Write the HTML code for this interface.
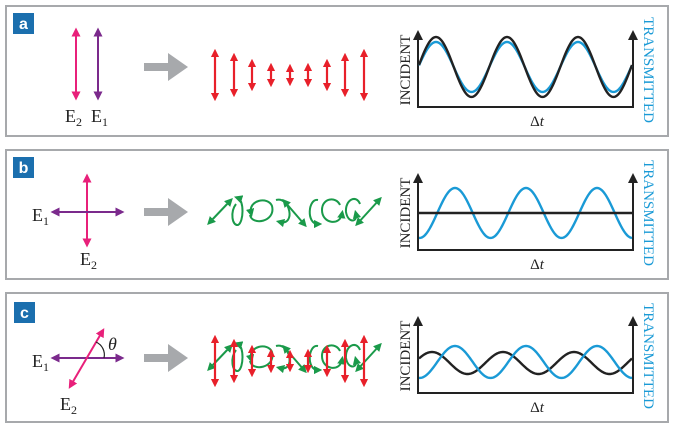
<!DOCTYPE html>
<html><head><meta charset="utf-8"><style>
html,body{margin:0;padding:0;background:#fff;}
svg{display:block;font-family:"Liberation Serif",serif;}
</style></head><body>
<svg width="676" height="430" viewBox="0 0 676 430" xmlns="http://www.w3.org/2000/svg">
<defs>
<marker id="ar" viewBox="0 0 10 10" refX="5" refY="5" markerWidth="3.8" markerHeight="3.8" orient="auto-start-reverse"><path d="M0,0L10,5L0,10z" fill="#e8202a"/></marker>
<marker id="pk" viewBox="0 0 10 10" refX="5" refY="5" markerWidth="4.5" markerHeight="4.5" orient="auto-start-reverse"><path d="M0,0L10,5L0,10z" fill="#e8207a"/></marker>
<marker id="pu" viewBox="0 0 10 10" refX="5" refY="5" markerWidth="4.5" markerHeight="4.5" orient="auto-start-reverse"><path d="M0,0L10,5L0,10z" fill="#7b2a8c"/></marker>
<marker id="gr" viewBox="0 0 10 10" refX="5" refY="5" markerWidth="4.2" markerHeight="4.2" orient="auto-start-reverse"><path d="M0,0L10,5L0,10z" fill="#1a9a4a"/></marker>
<g id="garr"><path d="M144,0h24v-10l20,14l-20,14v-10h-24z" fill="#a7a9ac" transform="translate(0,-4)"/></g>
</defs>

<rect x="6" y="6" width="662" height="130" fill="none" stroke="#a7a9ac" stroke-width="2"/>
<rect x="6" y="150" width="662" height="129" fill="none" stroke="#a7a9ac" stroke-width="2"/>
<rect x="6" y="293" width="662" height="129" fill="none" stroke="#a7a9ac" stroke-width="2"/>

<g font-family="Liberation Sans,sans-serif" font-weight="bold" font-size="16" fill="#fff">
<rect x="13" y="13" width="21" height="21" fill="#1b6fae"/><text x="23.5" y="29" text-anchor="middle">a</text>
<rect x="13" y="157" width="21" height="21" fill="#1b6fae"/><text x="23.5" y="173" text-anchor="middle">b</text>
<rect x="14" y="302" width="21" height="21" fill="#1b6fae"/><text x="24.5" y="318" text-anchor="middle">c</text>
</g>

<use href="#garr" y="67"/>
<use href="#garr" y="212"/>
<use href="#garr" y="358"/>

<line x1="76" y1="32" x2="76" y2="96" stroke="#e8207a" stroke-width="2" marker-start="url(#pk)" marker-end="url(#pk)"/>
<line x1="98" y1="32" x2="98" y2="96" stroke="#7b2a8c" stroke-width="2" marker-start="url(#pu)" marker-end="url(#pu)"/>
<g font-size="18" fill="#222">
<text x="65" y="122">E<tspan font-size="12" dy="4">2</tspan></text>
<text x="91" y="122">E<tspan font-size="12" dy="4">1</tspan></text>
<text x="32" y="221">E<tspan font-size="12" dy="4">1</tspan></text>
<text x="80" y="265">E<tspan font-size="12" dy="4">2</tspan></text>
<text x="32" y="367">E<tspan font-size="12" dy="4">1</tspan></text>
<text x="60" y="410">E<tspan font-size="12" dy="4">2</tspan></text>
<text x="108" y="350" font-style="italic">θ</text>
</g>

<line x1="87" y1="178" x2="87" y2="243" stroke="#e8207a" stroke-width="2" marker-start="url(#pk)" marker-end="url(#pk)"/>
<line x1="55" y1="212" x2="120" y2="212" stroke="#7b2a8c" stroke-width="2" marker-start="url(#pu)" marker-end="url(#pu)"/>

<line x1="55" y1="358" x2="120" y2="358" stroke="#7b2a8c" stroke-width="2" marker-start="url(#pu)" marker-end="url(#pu)"/>
<line x1="102" y1="332" x2="71" y2="385" stroke="#e8207a" stroke-width="2" marker-start="url(#pk)" marker-end="url(#pk)"/>
<path d="M96,342 A14,14 0 0 1 104,358" fill="none" stroke="#222" stroke-width="1.2"/>

<g id="reds" stroke="#e8202a" stroke-width="2.2" fill="none">
<line x1="215" y1="53" x2="215" y2="97" marker-start="url(#ar)" marker-end="url(#ar)"/>
<line x1="234" y1="57" x2="234" y2="93" marker-start="url(#ar)" marker-end="url(#ar)"/>
<line x1="252" y1="63" x2="252" y2="87" marker-start="url(#ar)" marker-end="url(#ar)"/>
<line x1="271" y1="67" x2="271" y2="83" marker-start="url(#ar)" marker-end="url(#ar)"/>
<line x1="290" y1="68" x2="290" y2="82" marker-start="url(#ar)" marker-end="url(#ar)"/>
<line x1="308" y1="67" x2="308" y2="83" marker-start="url(#ar)" marker-end="url(#ar)"/>
<line x1="327" y1="63" x2="327" y2="87" marker-start="url(#ar)" marker-end="url(#ar)"/>
<line x1="345" y1="57" x2="345" y2="93" marker-start="url(#ar)" marker-end="url(#ar)"/>
<line x1="364" y1="53" x2="364" y2="97" marker-start="url(#ar)" marker-end="url(#ar)"/>
</g>

<g id="greens" stroke="#1a9a4a" stroke-width="2" fill="none">
<line x1="210" y1="222" x2="230" y2="201" marker-start="url(#gr)" marker-end="url(#gr)"/>
<path d="M236,204 C230,212 232,226 238,225 C244,222 244,200 238,198" marker-end="url(#gr)"/>
<path d="M251,213 C248,200 268,196 272,206 C276,222 252,226 250,215" marker-start="url(#gr)"/>
<path d="M276,200 C290,196 296,226 280,222" marker-end="url(#gr)"/>
<line x1="285" y1="202" x2="304" y2="224" marker-start="url(#gr)" marker-end="url(#gr)"/>
<path d="M318,200 C308,198 306,224 318,224" marker-end="url(#gr)"/>
<path d="M340,205 C336,196 322,198 322,210 C322,224 340,226 342,214" marker-end="url(#gr)"/>
<path d="M360,204 C356,194 345,200 346,212 C348,224 358,222 356,214" marker-end="url(#gr)"/>
<line x1="358" y1="223" x2="379" y2="200" marker-start="url(#gr)" marker-end="url(#gr)"/>
</g>

<use href="#greens" y="146"/>
<use href="#reds" y="286"/>

<g id="axes" stroke="#222" stroke-width="2" fill="none">
<path d="M418,38V107H633V38" />
<path d="M413,40L418,30L423,40z M628,40L633,30L638,40z" fill="#222" stroke="none"/>
</g>
<use href="#axes" y="143"/>
<use href="#axes" y="286"/>

<g font-size="15" fill="#222">
<text transform="translate(410,70) rotate(-90)" text-anchor="middle">INCIDENT</text>
<text transform="translate(410,213) rotate(-90)" text-anchor="middle">INCIDENT</text>
<text transform="translate(410,356) rotate(-90)" text-anchor="middle">INCIDENT</text>
<text x="537" y="126" text-anchor="middle">Δ<tspan font-style="italic">t</tspan></text>
<text x="537" y="269" text-anchor="middle">Δ<tspan font-style="italic">t</tspan></text>
<text x="537" y="412" text-anchor="middle">Δ<tspan font-style="italic">t</tspan></text>
</g>
<g font-size="15" fill="#1a9ad6">
<text transform="translate(644,70) rotate(90)" text-anchor="middle">TRANSMITTED</text>
<text transform="translate(644,213) rotate(90)" text-anchor="middle">TRANSMITTED</text>
<text transform="translate(644,356) rotate(90)" text-anchor="middle">TRANSMITTED</text>
</g>

<g fill="none" stroke-width="2.4" id="curves"></g>
<line x1="418" y1="213" x2="633" y2="213" stroke="#222" stroke-width="2.4"/>
</svg>
<script>
function wave(c,A,peak,x0,x1){var d="";for(var x=x0;x<=x1;x+=1){var y=c-A*Math.cos(2*Math.PI*(x-peak)/71);d+=(x==x0?"M":"L")+x+","+y.toFixed(2);}return d;}
var g=document.getElementById("curves");
function add(d,col){var p=document.createElementNS("http://www.w3.org/2000/svg","path");p.setAttribute("d",d);p.setAttribute("stroke",col);g.appendChild(p);}
add(wave(67,25,436,419,632),"#1a9ad6");
add(wave(67,30,436,419,632),"#222");
add(wave(213,25,455,419,632),"#1a9ad6");
add(wave(363,11,432,419,632),"#222");
add(wave(362,16,455,419,632),"#1a9ad6");
</script>
</body></html>
